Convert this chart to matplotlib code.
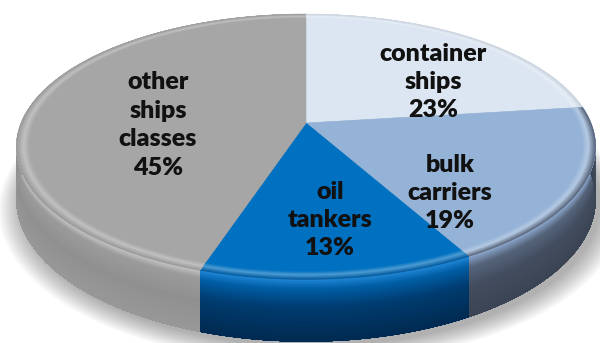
import numpy as np
import matplotlib
matplotlib.use("Agg")
import matplotlib.pyplot as plt
from matplotlib.patches import Polygon
from matplotlib.colors import to_rgb

# ---- data ----
categories = ["container\nships", "bulk\ncarriers", "oil\ntankers", "other\nships\nclasses"]
shares = [23, 19, 13, 45]
top_colors = ["#dce6f2", "#95b3d7", "#0070c0", "#a6a6a6"]
side_stops = [
    [(0.0, "#d3dce8"), (0.3, "#c3ccd8"), (1.0, "#b5bfcc")],
    [(0.0, "#8aa6cc"), (0.18, "#56647a"), (0.5, "#424d5f"), (1.0, "#3a4454")],
    [(0.0, "#1f86d6"), (0.15, "#005ea6"), (0.45, "#003c70"), (1.0, "#002a50")],
    [(0.0, "#c4c4c4"), (0.12, "#9b9b9b"), (0.5, "#909090"), (1.0, "#989898")],
]
label_pos = [(433, 82), (450, 193), (330, 220), (158, 125)]

# ---- geometry (pixel space) ----
CX, CY = 306, 123
A, B, K = 285, 128.5, 0.179
D = 51


def proj(theta_deg, z=0.0, r=1.0):
    t = np.radians(theta_deg)
    u, v = r * np.sin(t), r * np.cos(t)
    s = 1.0 / (1.0 + K * v)
    return CX + A * u * s, CY - B * v * s + z * D * s


def interp_color(stops, z):
    zs = [p[0] for p in stops]
    cs = np.array([to_rgb(p[1]) for p in stops])
    return tuple(np.interp(z, zs, cs[:, i]) for i in range(3))


fig = plt.figure(figsize=(6.0, 3.43), dpi=100)
ax = fig.add_axes([0, 0, 1, 1])
ax.set_xlim(0, 600)
ax.set_ylim(343, 0)
ax.axis("off")

# soft shadow
th_all = np.linspace(0, 360, 400)
for i in range(14):
    grow = 1 + i * 0.006
    xs, ys = proj(th_all, 1.0)
    xs = CX + (xs - CX) * grow + 5
    ys = CY + (ys - CY) * grow + 5
    ax.add_patch(Polygon(np.column_stack([xs, ys]), closed=True,
                         facecolor="#000000", edgecolor="none", alpha=0.022, zorder=1))

bounds = np.concatenate([[0], np.cumsum(shares)]) * 3.6

# sides: overlapping strips in depth (each from z0 down to the bottom)
nz = 40
for i in range(len(shares)):
    a0, a1 = bounds[i], bounds[i + 1]
    th = np.linspace(a0, a1, 120)
    xb, yb = proj(th, 1.0)
    for j in range(nz):
        z0 = j / nz
        x0, y0 = proj(th, z0)
        pts = np.column_stack([np.concatenate([x0, xb[::-1]]),
                               np.concatenate([y0, yb[::-1]])])
        c = interp_color(side_stops[i], z0 + 0.5 / nz)
        ax.add_patch(Polygon(pts, closed=True, facecolor=c, edgecolor="none",
                             zorder=2))

# top faces
for i in range(len(shares)):
    a0, a1 = bounds[i], bounds[i + 1]
    th = np.linspace(a0, a1, 200)
    xs, ys = proj(th)
    pts = np.column_stack([np.concatenate([[CX], xs]), np.concatenate([[CY], ys])])
    ax.add_patch(Polygon(pts, closed=True, facecolor=top_colors[i],
                         edgecolor=top_colors[i], linewidth=0.4, zorder=3))

# bevel on the rim: overlapping rings from r0 out to the edge
for i in range(len(shares)):
    a0, a1 = bounds[i], bounds[i + 1]
    th = np.linspace(a0, a1, 150)
    base = np.array(to_rgb(top_colors[i]))
    dark = np.array(interp_color(side_stops[i], 0.2))
    light = base + (1 - base) * 0.3
    nr = 12
    xe, ye = proj(th, 0, 1.0)
    for j in range(nr):
        r0 = 0.955 + 0.045 * j / nr
        f = (j + 0.5) / nr
        if f < 0.45:
            c = base * (1 - f / 0.45) + light * (f / 0.45)
        else:
            g = (f - 0.45) / 0.55
            c = light * (1 - g) + dark * g
        x0, y0 = proj(th, 0, r0)
        pts = np.column_stack([np.concatenate([x0, xe[::-1]]),
                               np.concatenate([y0, ye[::-1]])])
        ax.add_patch(Polygon(pts, closed=True, facecolor=np.clip(c, 0, 1),
                             edgecolor="none", zorder=4))

for lab, pct, (lx, ly) in zip(categories, shares, label_pos):
    ax.text(lx, ly, f"{lab}\n{pct}%", ha="center", va="center",
            fontsize=18, fontweight="heavy", family=["Lato", "DejaVu Sans"],
            color="#111111", linespacing=1.36, zorder=6)

fig.savefig("out.png", dpi=100)
